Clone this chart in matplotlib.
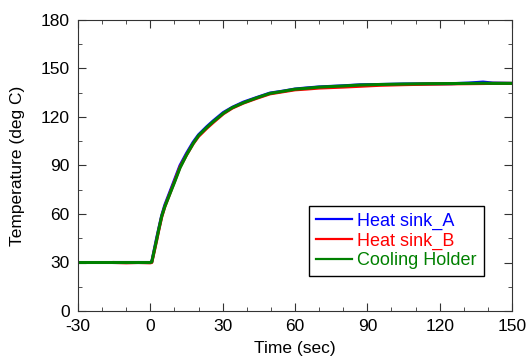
import matplotlib.pyplot as plt
from matplotlib.ticker import MultipleLocator

plt.rcParams['font.family'] = ['Liberation Sans', 'DejaVu Sans']
plt.rcParams['axes.unicode_minus'] = False

# Time (sec) and temperature (deg C)
time_a = [-15, -10, -5, 0, 0.6, 1.5, 2.6, 3.5, 4.7, 6, 8.2, 10, 12.3, 15, 17.8, 20, 23.4, 26, 30.3, 34,
          38.6, 44, 49.6, 55, 60, 65, 70, 80, 87, 95, 105, 115, 125, 132, 138, 142, 150]
temp_a = [30, 30, 30, 30, 30.5, 37, 45, 51, 59, 65.5, 74, 81, 90, 97.5, 104.5, 109, 114, 117.5, 122.8, 126,
          129.2, 132, 134.8, 136, 137.3, 138, 138.6, 139.3, 139.9, 140.1, 140.4, 140.5, 140.6, 141, 141.6, 141, 140.8]

time_b = [-15, -10, -5, 0, 0.6, 1.5, 2.6, 3.5, 4.7, 6, 8.2, 10, 12.3, 15, 17.8, 20, 23.4, 26, 30.3, 34,
          38.6, 44, 49.6, 55, 60, 65, 70, 80, 87, 95, 105, 115, 125, 132, 138, 142, 150]
temp_b = [30, 29.8, 30, 29.8, 30, 36, 43.5, 50, 58, 64.5, 73, 80, 89, 96.5, 103.5, 108, 113, 116.5, 122, 125.5,
          128.6, 131.5, 134.3, 135.6, 136.8, 137.3, 137.9, 138.5, 139, 139.6, 140, 140.3, 140.5, 140.6, 140.7, 140.8, 140.8]

time_c = [-30, -20, -10, -5, 0, 0.6, 1.5, 2.6, 3.5, 4.7, 6, 8.2, 10, 12.3, 15, 17.8, 20, 23.4, 26, 30.3, 34,
          38.6, 44, 49.6, 55, 60, 65, 70, 80, 87, 95, 105, 115, 125, 132, 138, 142, 150]
temp_c = [30, 30, 30, 30, 30, 30.3, 36.5, 44, 50.5, 58.5, 64.5, 72.8, 79.5, 88.5, 96.5, 103.7, 108.5, 113.5, 117, 122.3, 125.8,
          128.8, 131.8, 134.6, 135.9, 137.2, 137.8, 138.5, 139.2, 139.8, 140.1, 140.4, 140.6, 140.7, 140.8, 140.9, 140.8, 140.8]

fig = plt.figure(figsize=(5.28, 3.64), dpi=100)
ax = fig.add_axes([78 / 528, 1 - 311 / 364, 434 / 528, 291 / 364])

ax.plot(time_a, temp_a, color='#0000FF', linewidth=2.2, label='Heat sink_A')
ax.plot(time_b, temp_b, color='#FF0000', linewidth=2.2, label='Heat sink_B')
ax.plot(time_c, temp_c, color='#008000', linewidth=2.2, label='Cooling Holder')

ax.set_xlim(-30, 150)
ax.set_ylim(0, 180)
ax.xaxis.set_major_locator(MultipleLocator(30))
ax.xaxis.set_minor_locator(MultipleLocator(10))
ax.yaxis.set_major_locator(MultipleLocator(30))
ax.yaxis.set_minor_locator(MultipleLocator(15))
ax.tick_params(which='both', direction='in', top=True, right=True, labelsize=12.5, color='#333333')
ax.tick_params(which='major', length=6, pad=6)
ax.tick_params(which='minor', length=3)
for s in ax.spines.values():
    s.set_color('#333333')

ax.set_xlabel('Time (sec)', fontsize=12.5, labelpad=5)
ax.set_ylabel('Temperature (deg C)', fontsize=12.5, labelpad=11)

leg = ax.legend(loc='lower right', bbox_to_anchor=(0.935, 0.12), borderaxespad=0, fontsize=13,
                fancybox=False, edgecolor='black', framealpha=1, handlelength=2.0,
                handletextpad=0.28, labelspacing=0.13, borderpad=0.4)
leg.get_frame().set_linewidth(1)
for line, text in zip(leg.get_lines(), leg.get_texts()):
    text.set_color(line.get_color())
    line.set_linewidth(1.6)

plt.savefig('out.png', dpi=100)
